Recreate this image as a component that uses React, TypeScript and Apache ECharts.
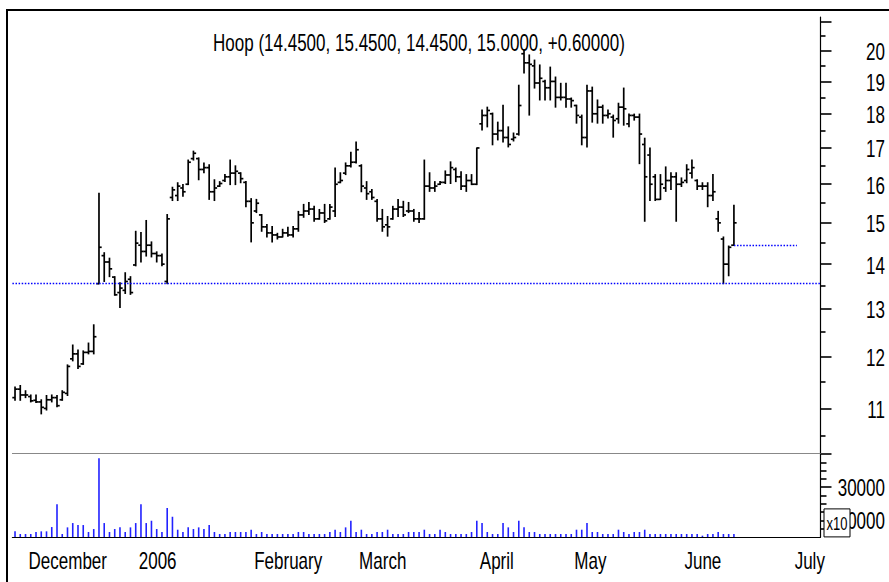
import React, { useEffect, useRef } from "react";
import * as echarts from "echarts";

const FONT = '"Liberation Sans", Arial, sans-serif';
const TEXT_SCALE_X = 0.74;

const symbolName = "Hoop";
const firstDay = [2005, 10, 29]; // 29 Nov 2005 (month is 0-based)
const holidays = ["2005-12-26", "2006-04-14", "2006-04-17", "2006-05-01", "2006-05-29"];
const slotCount = 154;

const opens = [
  11.20, 11.36, 11.25, 11.22, 11.15, 11.12, 11.00, 11.16, 11.20, 11.16,
  11.28, 11.95, 12.05, 11.85, 12.08, 12.10, 13.55, 14.20, 14.05, 13.70,
  13.35, 13.40, 13.65, 13.98, 14.45, 14.30, 14.45, 14.25, 14.20, 13.60,
  15.65, 15.70, 15.90, 16.00, 16.70, 16.70, 16.40, 16.45, 15.80, 15.95,
  16.10, 16.20, 16.30, 16.30, 16.05, 15.55, 15.30, 15.20, 14.90, 14.75,
  14.70, 14.65, 14.75, 14.70, 14.85, 15.20, 15.30, 15.35, 15.10, 15.25,
  15.10, 15.30, 16.05, 16.30, 16.50, 16.60, 16.50, 15.90, 15.80, 15.55,
  15.10, 14.95, 15.10, 15.35, 15.40, 15.30, 15.30, 15.10, 15.10, 15.95,
  15.90, 16.00, 16.05, 16.25, 16.40, 16.20, 15.95, 16.10, 16.00, 17.70,
  17.95, 18.00, 17.40, 17.50, 17.30, 17.25, 17.40, 19.90, 19.60, 19.50,
  18.95, 19.00, 18.80, 19.00, 18.50, 18.50, 18.45, 18.25, 17.90, 17.30,
  18.70, 18.00, 18.20, 17.95, 17.90, 17.85, 18.20, 17.70, 17.95, 17.90,
  17.10, 16.80, 16.20, 15.60, 15.90, 16.10, 16.20, 16.00, 16.10, 16.30,
  16.10, 15.95, 15.95, 15.70, 15.10, 14.60, 14.00, 14.45,
];
const highs = [
  11.40, 11.43, 11.33, 11.25, 11.25, 11.16, 11.24, 11.25, 11.24, 11.33,
  11.83, 12.23, 12.13, 12.11, 12.27, 12.65, 15.76, 14.27, 14.14, 13.71,
  13.57, 13.80, 13.71, 14.79, 14.76, 15.06, 14.53, 14.29, 14.24, 15.21,
  15.92, 16.04, 15.99, 16.66, 16.91, 16.72, 16.58, 16.53, 16.12, 16.07,
  16.26, 16.66, 16.50, 16.31, 16.07, 15.62, 15.60, 15.21, 14.96, 14.91,
  14.74, 14.84, 14.89, 14.91, 15.29, 15.47, 15.52, 15.42, 15.34, 15.47,
  15.47, 16.44, 16.31, 16.58, 16.88, 17.17, 16.53, 16.07, 15.86, 15.60,
  15.34, 15.16, 15.42, 15.60, 15.55, 15.52, 15.34, 15.26, 16.66, 16.31,
  16.07, 16.07, 16.36, 16.61, 16.44, 16.34, 16.26, 16.26, 17.00, 18.11,
  18.20, 18.02, 17.75, 18.26, 17.61, 17.43, 18.88, 20.02, 19.86, 19.69,
  19.53, 19.04, 19.46, 19.14, 18.94, 18.94, 18.48, 18.26, 17.96, 18.88,
  18.82, 18.42, 18.26, 18.11, 17.96, 18.32, 18.79, 17.99, 17.99, 17.99,
  17.28, 17.00, 16.26, 16.26, 16.47, 16.31, 16.31, 16.17, 16.53, 16.66,
  16.12, 16.04, 16.04, 16.26, 15.29, 14.65, 14.43, 15.45,
];
const lows = [
  11.15, 11.15, 11.20, 11.12, 11.11, 10.90, 10.97, 11.12, 11.03, 11.15,
  11.24, 11.91, 11.76, 11.84, 12.05, 12.05, 13.55, 13.60, 13.71, 13.29,
  13.02, 13.33, 13.31, 13.96, 14.05, 14.19, 14.17, 14.05, 13.96, 13.55,
  15.57, 15.57, 15.68, 15.99, 16.66, 16.12, 16.31, 15.60, 15.57, 15.94,
  16.07, 15.99, 15.99, 16.04, 15.41, 14.53, 15.26, 14.79, 14.65, 14.53,
  14.60, 14.65, 14.67, 14.65, 14.79, 15.14, 15.21, 15.04, 15.09, 15.01,
  15.09, 15.16, 16.04, 16.26, 16.47, 16.58, 15.80, 15.60, 15.60, 15.04,
  14.79, 14.67, 15.09, 15.16, 15.16, 15.26, 15.04, 15.01, 15.09, 15.81,
  15.81, 15.99, 16.02, 16.02, 16.07, 15.86, 15.81, 15.99, 15.99, 17.52,
  17.61, 17.09, 17.23, 17.17, 17.03, 17.20, 17.37, 19.27, 17.96, 18.79,
  18.42, 18.42, 18.42, 18.20, 18.42, 18.20, 18.20, 17.72, 17.09, 17.03,
  17.75, 17.72, 17.72, 17.87, 17.31, 17.72, 17.66, 17.61, 17.81, 16.56,
  15.04, 15.57, 15.57, 15.60, 15.81, 15.86, 15.04, 15.94, 16.04, 16.17,
  15.86, 15.86, 15.41, 15.57, 14.79, 13.55, 13.73, 14.45,
];
const closes = [
  11.36, 11.25, 11.25, 11.14, 11.12, 11.02, 11.16, 11.20, 11.05, 11.30,
  11.80, 12.05, 11.80, 12.08, 12.10, 12.40, 14.40, 14.05, 13.89, 13.30,
  13.45, 13.60, 13.35, 14.50, 14.30, 14.45, 14.25, 14.20, 14.00, 15.10,
  15.85, 15.95, 15.80, 16.60, 16.85, 16.40, 16.45, 15.80, 15.90, 16.02,
  16.20, 16.30, 16.35, 16.15, 15.55, 15.00, 15.50, 14.90, 14.75, 14.70,
  14.65, 14.75, 14.70, 14.85, 15.20, 15.30, 15.35, 15.10, 15.25, 15.05,
  15.40, 16.00, 16.10, 16.50, 16.60, 16.95, 15.95, 15.75, 15.65, 15.10,
  14.90, 14.90, 15.35, 15.40, 15.20, 15.30, 15.10, 15.10, 15.95, 15.90,
  15.95, 16.05, 16.25, 16.45, 16.20, 15.95, 16.10, 16.00, 17.00, 17.95,
  18.10, 17.40, 17.50, 17.30, 17.10, 17.30, 18.25, 19.60, 19.55, 18.95,
  19.10, 18.80, 19.00, 18.50, 18.50, 18.45, 18.40, 17.95, 17.30, 18.70,
  18.00, 18.20, 17.95, 18.00, 17.80, 18.20, 18.15, 17.95, 17.90, 17.40,
  16.20, 16.00, 15.60, 16.00, 16.10, 16.20, 16.00, 16.05, 16.40, 16.45,
  15.95, 15.95, 15.70, 15.80, 15.00, 14.00, 14.40, 15.00,
];
const volumes = [
  3400, 1800, 1800, 1800, 3000, 3400, 3400, 6000, 19800, 1800,
  5800, 8400, 7200, 7200, 3000, 4800, 47400, 8400, 3000, 4800,
  5800, 3000, 5800, 8400, 19800, 8400, 9800, 4800, 3000, 17400,
  12200, 4400, 3000, 5800, 4800, 5800, 4800, 7200, 3000, 1800,
  1800, 3000, 3000, 3000, 3000, 4400, 1800, 3000, 1800, 1800,
  1800, 1800, 1800, 1800, 3000, 3000, 1800, 1800, 1800, 1800,
  3000, 4400, 3000, 5800, 9800, 3000, 4400, 1800, 1800, 3000,
  3000, 4400, 1800, 1800, 1800, 3000, 3000, 3000, 4400, 1800,
  1800, 4400, 3000, 1800, 1800, 1800, 1800, 3000, 9800, 8400,
  3000, 1800, 1800, 8400, 5800, 3000, 9800, 5800, 3000, 3000,
  1800, 1800, 1800, 1800, 1800, 1800, 1800, 4400, 4400, 8400,
  3000, 3000, 1800, 1800, 1800, 4400, 3000, 1800, 3000, 3000,
  4400, 1800, 1800, 1800, 1800, 1800, 1800, 1800, 1800, 1800,
  1800, 800, 1800, 1800, 3000, 1800, 1800, 1800,
];

const priceMajorTicks = [11, 12, 13, 14, 15, 16, 17, 18, 19, 20, 21];
const priceLabels = [11, 12, 13, 14, 15, 16, 17, 18, 19, 20];
const priceMinorTicks = [10.5, 11.5, 12.5, 13.5, 14.5, 15.5, 16.5, 17.5, 18.5, 19.5, 20.5];
const volumeMajorTicks = [10000, 30000, 50000];
const volumeLabels = [10000, 30000];
const volumeMinorTicks = [5000, 15000, 20000, 25000, 35000, 40000, 45000];
const volumeMultiplier = "x10";
const monthTickIdx = [2, 23, 45, 65, 88, 106, 127, 148];
const monthLabels = ["December", "2006", "February", "March", "April", "May", "June", "July"];
const weekTickIdx = [9, 14, 19, 28, 33, 38, 43, 48, 53, 58, 63, 68, 73, 78, 83, 92, 97, 101, 109, 114, 119, 124, 129, 134, 138, 143, 153];
const supportLevel = 13.55;

const PRICE_MIN = 10.21;
const PRICE_MAX = 21.16;
const VOL_MAX = 50000;

function buildDays(): string[] {
  const out: string[] = [];
  const d = new Date(Date.UTC(firstDay[0], firstDay[1], firstDay[2]));
  while (out.length < slotCount) {
    const wd = d.getUTCDay();
    const s = d.toISOString().slice(0, 10);
    if (wd !== 0 && wd !== 6 && holidays.indexOf(s) < 0) out.push(s);
    d.setUTCDate(d.getUTCDate() + 1);
  }
  return out;
}

export default function App() {
  const ref = useRef<HTMLDivElement>(null);
  useEffect(() => {
    document.body.style.margin = "0";
    if (!ref.current) return;
    const chart = echarts.init(ref.current, null, { renderer: "svg" });
    const days = buildDays();
    const ohlc = opens.map((o, i) => [i, o, highs[i], lows[i], closes[i]]);
    const last = ohlc.length - 1;
    const change = closes[last] - closes[last - 1];
    const title = `${symbolName} (${opens[last].toFixed(4)}, ${highs[last].toFixed(4)}, ${lows[last].toFixed(4)}, ${closes[last].toFixed(4)}, ${change >= 0 ? "+" : ""}${change.toFixed(5)})`;
    const monthSet = new Set(monthTickIdx);
    const weekSet = new Set(weekTickIdx);

    const gridL = 12.4;
    const gridR = 68.5;
    const black = "#000";

    const option: any = {
      animation: false,
      textStyle: { fontFamily: FONT },
      grid: [
        { left: gridL, right: gridR, top: 17, bottom: 582 - 453, outerBoundsMode: "none" },
        { left: gridL, right: gridR, top: 454, bottom: 582 - 537, outerBoundsMode: "none" },
      ],
      xAxis: [
        {
          gridIndex: 0, type: "category", data: days, boundaryGap: true, position: "bottom",
          axisLine: { onZero: false, lineStyle: { color: "#888", width: 1 } },
          axisTick: { show: false }, axisLabel: { show: false }, splitLine: { show: false },
        },
        {
          gridIndex: 1, type: "category", data: days, boundaryGap: true, position: "bottom",
          axisLine: { onZero: false, lineStyle: { color: black, width: 1.2 } },
          axisTick: { alignWithLabel: true, interval: (i: number) => weekSet.has(i), length: 10, lineStyle: { color: black, width: 1.6 } },
          axisLabel: { show: false }, splitLine: { show: false },
        },
        {
          gridIndex: 1, type: "category", data: days, boundaryGap: true, position: "bottom",
          axisLine: { show: false, onZero: false },
          axisTick: { alignWithLabel: true, interval: (i: number) => monthSet.has(i), length: 40, lineStyle: { color: black, width: 1.6 } },
          axisLabel: { show: false },
          splitLine: { show: false },
        },
      ],
      yAxis: [
        {
          gridIndex: 0, type: "log", logBase: 10, min: PRICE_MIN, max: PRICE_MAX, position: "right",
          axisLine: { show: true, lineStyle: { color: black, width: 1.2 } },
          axisTick: { show: true, customValues: priceMajorTicks, length: 11, lineStyle: { color: black, width: 1.6 } },
          axisLabel: { show: false },
          splitLine: { show: false }, minorTick: { show: false },
        },
        {
          gridIndex: 0, type: "log", logBase: 10, min: PRICE_MIN, max: PRICE_MAX, position: "right",
          axisLine: { show: false },
          axisTick: { show: true, customValues: priceMinorTicks, length: 5, lineStyle: { color: black, width: 1.6 } },
          axisLabel: { show: false }, splitLine: { show: false },
        },
        {
          gridIndex: 1, type: "value", min: 0, max: VOL_MAX, position: "right",
          axisLine: { show: true, lineStyle: { color: black, width: 1.2 } },
          axisTick: { show: true, customValues: volumeMajorTicks, length: 11, lineStyle: { color: black, width: 1.6 } },
          axisLabel: { show: false },
          splitLine: { show: false },
        },
        {
          gridIndex: 1, type: "value", min: 0, max: VOL_MAX, position: "right",
          axisLine: { show: false },
          axisTick: { show: true, customValues: volumeMinorTicks, length: 6, lineStyle: { color: black, width: 1.6 } },
          axisLabel: { show: false }, splitLine: { show: false },
        },
      ],
      series: [
        {
          type: "line", xAxisIndex: 0, yAxisIndex: 0, data: closes, showSymbol: false, silent: true,
          lineStyle: { opacity: 0, width: 0 }, z: 1,
          markLine: {
            symbol: "none", silent: true, label: { show: false },
            lineStyle: { color: "#0000ff", type: [1.5, 1.6], width: 1.4 },
            data: [
              { yAxis: supportLevel },
              [{ coord: [last, opens[last]] }, { coord: [last + 11.5, opens[last]] }],
            ],
          },
        },
        {
          type: "custom", xAxisIndex: 0, yAxisIndex: 0, data: ohlc, z: 3,
          encode: { x: 0, y: [1, 2, 3, 4] },
          renderItem: (_p: any, api: any) => {
            const x = api.value(0);
            const pO = api.coord([x, api.value(1)]);
            const pH = api.coord([x, api.value(2)]);
            const pL = api.coord([x, api.value(3)]);
            const pC = api.coord([x, api.value(4)]);
            const st = { stroke: black, lineWidth: 1.7 };
            return {
              type: "group",
              children: [
                { type: "line", shape: { x1: pH[0], y1: pH[1] - 0.5, x2: pL[0], y2: pL[1] + 0.5 }, style: st },
                { type: "line", shape: { x1: pO[0] - 2.7, y1: pO[1], x2: pO[0], y2: pO[1] }, style: st },
                { type: "line", shape: { x1: pC[0], y1: pC[1], x2: pC[0] + 2.7, y2: pC[1] }, style: st },
              ],
            };
          },
        },
        {
          type: "bar", xAxisIndex: 1, yAxisIndex: 2, data: volumes, barWidth: 1.6,
          itemStyle: { color: "#2222ff" }, silent: true,
        },
      ],
    };
    chart.setOption(option);

    // Condensed text (Arial Narrow look): real text elements, positioned through the axes' own scales.
    const txt = (text: string, x: number, y: number, align: string, z = 40) => ({
      type: "text", x, y, scaleX: TEXT_SCALE_X, z,
      style: { text, fontFamily: FONT, fontSize: 23, fill: black, align, verticalAlign: "middle" },
    });
    const graphics: any[] = [
      { type: "line", z: 50, shape: { x1: 6, y1: 10, x2: 889, y2: 10 }, style: { stroke: black, lineWidth: 2 } },
      { type: "line", z: 50, shape: { x1: 7, y1: 9, x2: 7, y2: 582 }, style: { stroke: black, lineWidth: 2 } },
      txt(title, 213, 42.7, "left"),
    ];
    monthTickIdx.forEach((m, k) => {
      const x = chart.convertToPixel({ xAxisIndex: 2 }, m) as number;
      graphics.push(txt(monthLabels[k], x + 3, 561.5, "left"));
    });
    priceLabels.forEach((v) => {
      const y = chart.convertToPixel({ yAxisIndex: 0 }, v) as number;
      graphics.push(txt(String(v), 885, y + 1.5, "right"));
    });
    volumeLabels.forEach((v) => {
      const y = chart.convertToPixel({ yAxisIndex: 2 }, v) as number;
      graphics.push(txt(String(v), 885, y + 0.5, "right"));
    });
    const yMult = chart.convertToPixel({ yAxisIndex: 2 }, volumeLabels[0]) as number;
    graphics.push({
      type: "rect", z: 70, x: 824, y: yMult - 11.5,
      shape: { x: 0, y: 0, width: 26, height: 28 },
      style: { fill: "#fff", stroke: black, lineWidth: 1 },
    });
    graphics.push({
      type: "text", z: 71, x: 837, y: yMult + 3, scaleX: 0.72,
      style: { text: volumeMultiplier, fontSize: 18, fontFamily: FONT, fill: black, align: "center", verticalAlign: "middle" },
    });
    chart.setOption({ graphic: graphics });
    return () => chart.dispose();
  }, []);
  return <div ref={ref} style={{ width: 889, height: 582 }} />;
}
